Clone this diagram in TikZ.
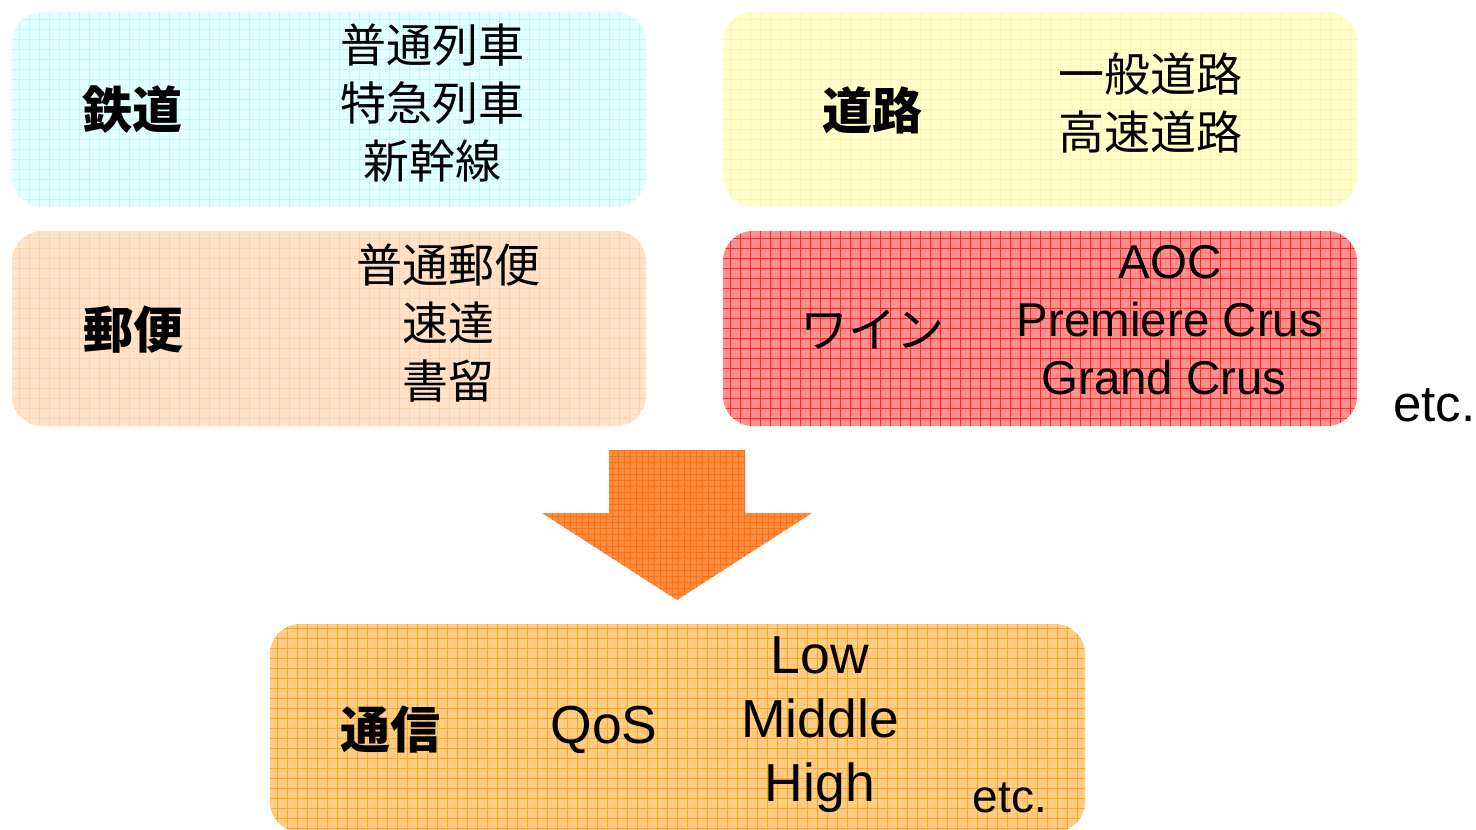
\documentclass[tikz,border=0pt]{standalone}
\usepackage{fontspec}
\setmainfont{Liberation Sans}
\newfontfamily\jp{Noto Sans CJK JP}
\definecolor{railfill}{HTML}{E4FFFF}
\definecolor{railline}{HTML}{C4F8F8}
\definecolor{roadfill}{HTML}{FFFFCC}
\definecolor{roadline}{HTML}{F8F8B0}
\definecolor{postfill}{HTML}{FFE2C8}
\definecolor{postline}{HTML}{FCD4AE}
\definecolor{winefill}{HTML}{FF8E8E}
\definecolor{wineline}{HTML}{FF2A2A}
\definecolor{commfill}{HTML}{FFCC84}
\definecolor{commline}{HTML}{FFA824}
\definecolor{arrowfill}{HTML}{FF8C40}
\definecolor{arrowline}{HTML}{FF7010}
\tikzset{
  gridbox/.style n args={2}{rectangle, rounded corners=30pt, inner sep=0pt,
    fill=#1, path picture={\draw[#2, line width=0.8pt, step=10pt]
      ([shift={(-5pt,-5pt)}]path picture bounding box.south west) grid
      ([shift={(5pt,5pt)}]path picture bounding box.north east);}},
  topbox/.style={minimum width=634pt, minimum height=195pt},
  head/.style={font=\jp\bfseries\fontsize{50}{60}\selectfont, inner sep=0pt},
  jlist/.style={font=\jp\fontsize{46}{58}\selectfont, align=center, inner sep=0pt},
  elist/.style={font=\fontsize{47.5}{58}\selectfont, align=center, inner sep=0pt},
  blist/.style={font=\fontsize{53.5}{64}\selectfont, align=center, inner sep=0pt},
}
\begin{document}
\begin{tikzpicture}[x=1pt,y=1pt]
\useasboundingbox (0,0) rectangle (1476,-830);
\node[gridbox={railfill}{railline}, topbox] (rail) at (329,-109.5) {};
\node[gridbox={roadfill}{roadline}, topbox] (road) at (1040,-109.5) {};
\node[gridbox={postfill}{postline}, topbox] (post) at (329,-328.5) {};
\node[gridbox={winefill}{wineline}, topbox] (wine) at (1040,-328.5) {};
\node[gridbox={commfill}{commline}, minimum width=815pt, minimum height=208pt] (comm) at (677.5,-728) {};
% block arrow
\fill[arrowfill] (609,-450) -- (745,-450) -- (745,-513) -- (812,-513) -- (677,-600) -- (542,-513) -- (609,-513) -- cycle;
\begin{scope}
\clip (609,-450) -- (745,-450) -- (745,-513) -- (812,-513) -- (677,-600) -- (542,-513) -- (609,-513) -- cycle;
\draw[arrowline, line width=0.8pt, step=6pt] (540,-602) grid (814,-448);
\end{scope}
% texts
\node[head] (railt) at (132,-110) {鉄道};
\node[jlist] (raill) at (432,-103) {普通列車\\特急列車\\新幹線};
\node[head] (roadt) at (872,-110) {道路};
\node[jlist] (roadl) at (1150,-103) {一般道路\\高速道路};
\node[head] (postt) at (133,-330) {郵便};
\node[jlist] (postl) at (448,-323) {普通郵便\\速達\\書留};
\node[font=\jp\fontsize{48}{58}\selectfont, inner sep=0pt] (winet) at (872,-330) {ワイン};
\node[elist] (winel) at (1170,-320) {AOC\\Premiere Crus\\Grand Crus\kern12pt};
\node[font=\fontsize{51}{60}\selectfont, inner sep=0pt, anchor=base west] (etc1) at (1393,-421) {etc.};
\node[head] (commt) at (390,-730) {通信};
\node[blist] (qos) at (604,-730) {QoS};
\node[blist] (lmh) at (820,-725) {Low\\Middle\\High};
\node[font=\fontsize{46}{56}\selectfont, inner sep=0pt] (etc2) at (1010,-798) {etc.};
\end{tikzpicture}
\end{document}
